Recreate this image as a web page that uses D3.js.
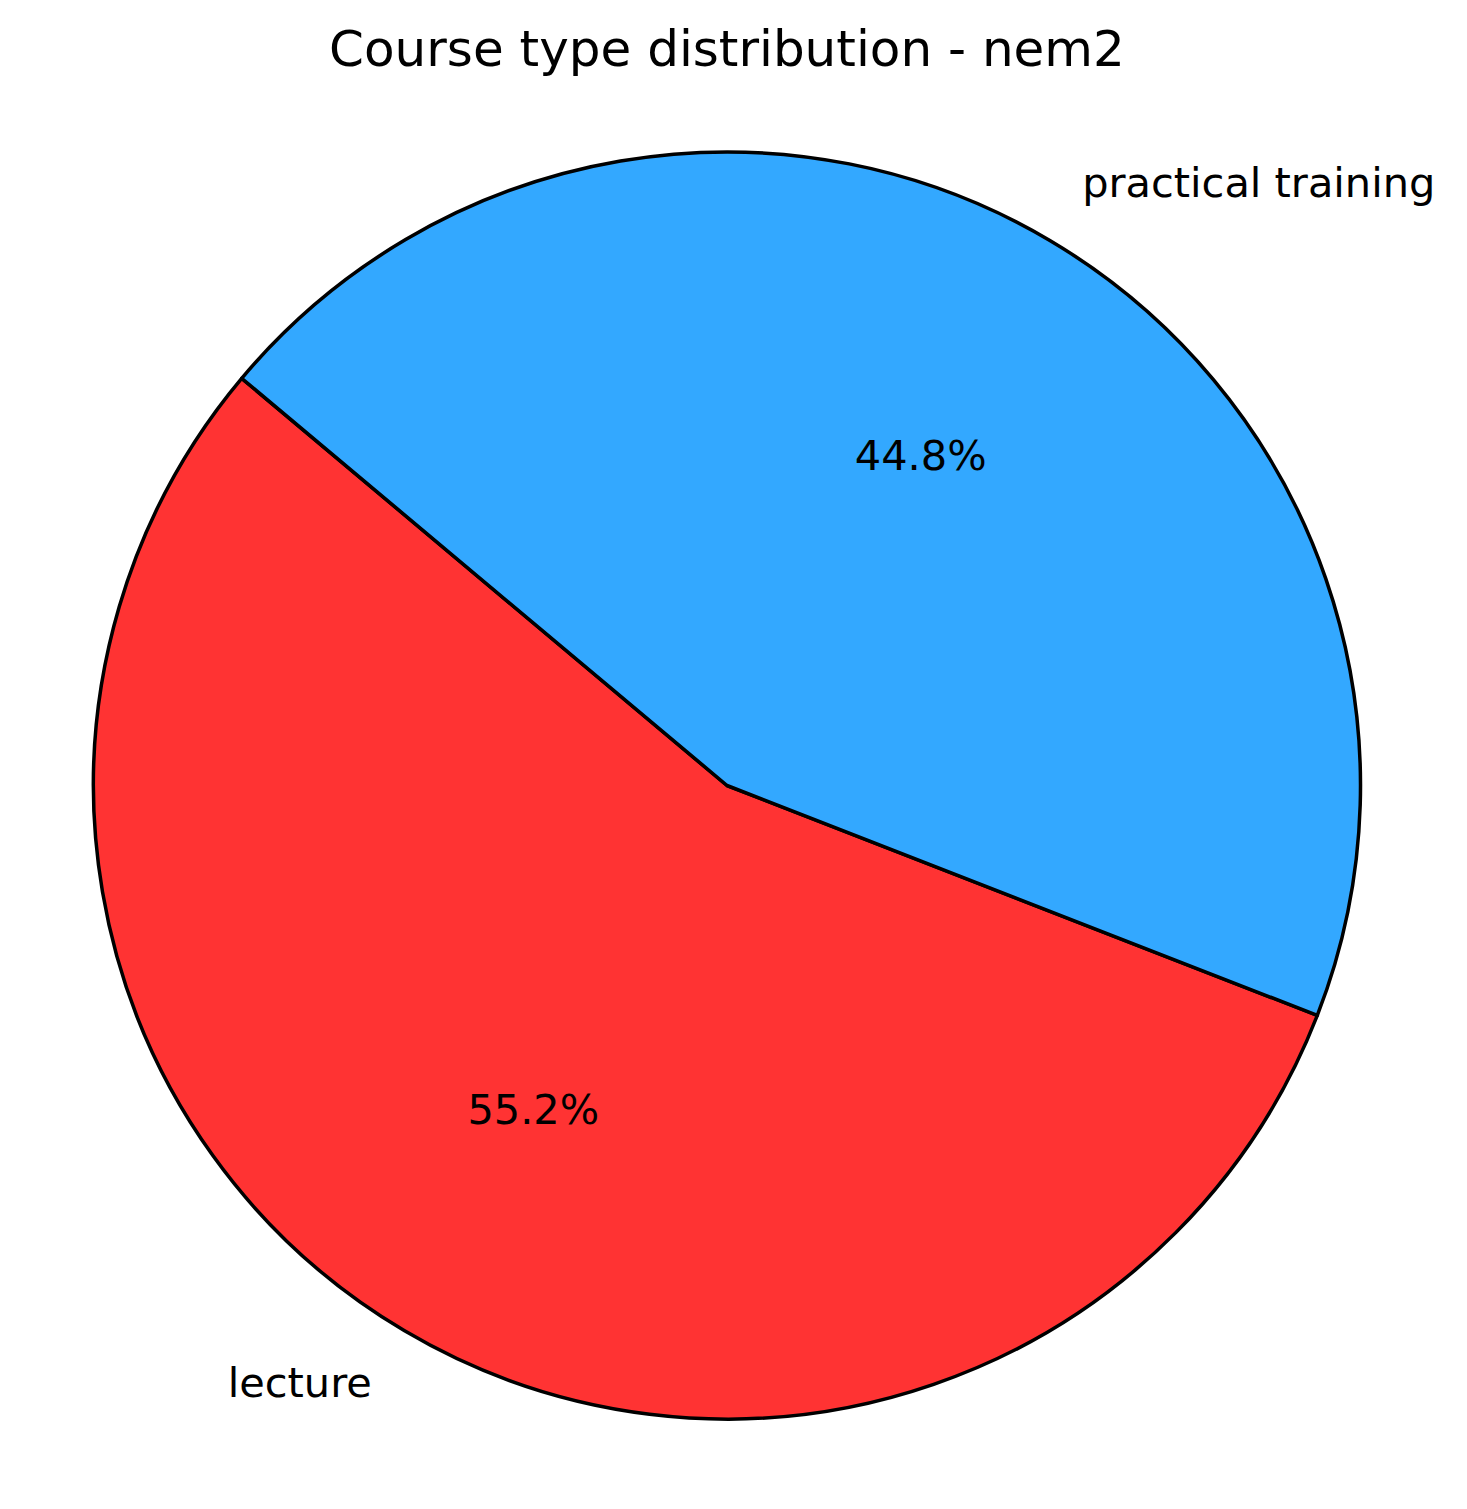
<!DOCTYPE html>
<head>
    <meta charset='utf-8'>
    <style>
        body {
            margin: 0;
            background: #fff;
            font-family: 'DejaVu Sans', sans-serif;
        }
    </style>
</head>
<body>
<div id='vis'></div>
<script src='https://d3js.org/d3.v7.min.js'></script>
<script>
  // data
  const labels = ['lecture', 'practical training']
  const values = [55.2, 44.8]
  const colors = ['#ff3333', '#33a8ff']
  const title = 'Course type distribution - nem2'

  const width = 1467, height = 1509
  const cx = 727, cy = 785.5, r = 633.5
  const labelSize = 41.5

  const svg = d3.select('#vis')
    .append('svg')
    .attr('width', width)
    .attr('height', height)

  svg.append('text')
    .attr('x', cx)
    .attr('y', 66)
    .attr('text-anchor', 'middle')
    .attr('font-size', 50)
    .text(title)

  // matplotlib startangle=140, counterclockwise -> d3 angles
  const start = Math.PI / 2 - 140 * Math.PI / 180
  const pie = d3.pie()
    .sort(null)
    .startAngle(start)
    .endAngle(start - 2 * Math.PI)

  const arcs = pie(values)
  const arc = d3.arc().innerRadius(0).outerRadius(r)

  const g = svg.append('g')
    .attr('transform', `translate(${cx}, ${cy})`)

  g.selectAll('path')
    .data(arcs)
    .enter()
    .append('path')
    .attr('d', arc)
    .attr('fill', (d, i) => colors[i])
    .attr('stroke', '#000')
    .attr('stroke-width', 3.5)
    .attr('stroke-linejoin', 'round')

  // vertical centre of text box sits ~0.276em above baseline
  const vc = 0.276 * labelSize
  const pos = (d, k) => {
    const m = (d.startAngle + d.endAngle) / 2
    return [Math.sin(m) * r * k, -Math.cos(m) * r * k]
  }

  g.selectAll('.label')
    .data(arcs)
    .enter()
    .append('text')
    .attr('class', 'label')
    .attr('x', d => pos(d, 1.1)[0])
    .attr('y', d => pos(d, 1.1)[1] + vc)
    .attr('text-anchor', d => pos(d, 1.1)[0] < 0 ? 'end' : 'start')
    .attr('font-size', labelSize)
    .text((d, i) => labels[i])

  g.selectAll('.pct')
    .data(arcs)
    .enter()
    .append('text')
    .attr('class', 'pct')
    .attr('x', d => pos(d, 0.6)[0])
    .attr('y', d => pos(d, 0.6)[1] + vc)
    .attr('text-anchor', 'middle')
    .attr('font-size', labelSize)
    .text(d => d3.format('.1f')(d.value) + '%')
</script>
</body>
